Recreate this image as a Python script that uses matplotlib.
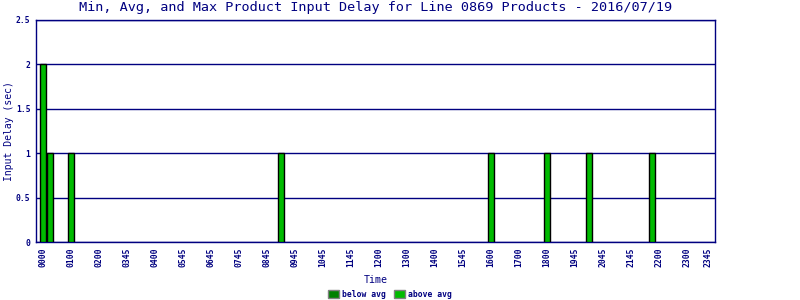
import numpy as np
import matplotlib.pyplot as plt
from matplotlib.patches import Patch

# time slots (96 in the day), only every 4th one is labelled
n_slots = 96
tick_slots = [0, 4, 8, 12, 16, 20, 24, 28, 32, 36, 40, 44, 48, 52, 56, 60,
              64, 68, 72, 76, 80, 84, 88, 92, 95]
tick_labels = ['0000', '0100', '0200', '0345', '0400', '0545', '0645', '0745',
               '0845', '0945', '1045', '1145', '1200', '1300', '1400', '1545',
               '1600', '1700', '1800', '1945', '2045', '2145', '2200', '2300',
               '2345']

# slots that had any delay, and the delay in seconds
bar_slots = [0, 1, 4, 34, 64, 72, 78, 87]
bar_delay = [2, 1, 1, 1, 1, 1, 1, 1]

navy = '#000080'
below_col = '#008000'
above_col = '#00bb00'

plt.rcParams['font.family'] = 'DejaVu Sans Mono'

fig = plt.figure(figsize=(8, 3), dpi=100)
ax = fig.add_axes([36/800, 1 - 242/300, (715 - 36)/800, (242 - 20)/300])

ax.bar(bar_slots, bar_delay, width=0.72, color=above_col,
       edgecolor='black', linewidth=1, zorder=3)

ax.set_xlim(-1, n_slots)
ax.set_ylim(0, 2.5)
ax.set_yticks([0, 0.5, 1, 1.5, 2, 2.5])
ax.set_yticklabels(['0', '0.5', '1', '1.5', '2', '2.5'])
ax.set_xticks(tick_slots)
ax.set_xticklabels(tick_labels, rotation=90)
ax.tick_params(axis='both', length=0, labelsize=5.8, colors=navy, pad=4)
for lbl in ax.get_xticklabels() + ax.get_yticklabels():
    lbl.set_fontweight('bold')

ax.yaxis.grid(True, color=navy, linewidth=1, zorder=1)
for s in ax.spines.values():
    s.set_color(navy)
    s.set_linewidth(1)

ax.set_ylabel('Input Delay (sec)', fontsize=7, color=navy)
ax.yaxis.set_label_coords(-0.033, 0.5)
ax.set_xlabel('Time', fontsize=7.2, color=navy, labelpad=6)
fig.suptitle('Min, Avg, and Max Product Input Delay for Line 0869 Products - 2016/07/19',
             fontsize=9.7, color=navy, x=0.47, y=0.995)

handles = [Patch(facecolor=below_col, edgecolor='gray', label='below avg'),
           Patch(facecolor=above_col, edgecolor='gray', label='above avg')]
leg = fig.legend(handles=handles, loc='lower center', bbox_to_anchor=(0.4875, -0.02),
                 ncol=2, frameon=False, fontsize=5.8, handlelength=1.3,
                 handleheight=1.0, handletextpad=0.4, columnspacing=1.0)
for t in leg.get_texts():
    t.set_color(navy)
    t.set_fontweight('bold')

fig.savefig('out.png', dpi=100)
